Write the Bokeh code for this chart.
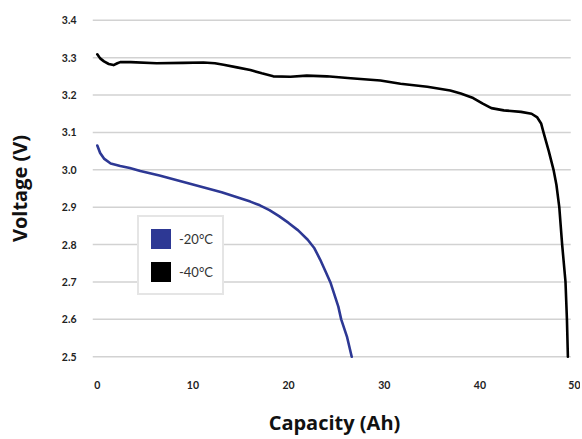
from bokeh.plotting import figure
from bokeh.models import Range1d, FixedTicker, PrintfTickFormatter, Legend, LegendItem, ColumnDataSource
from bokeh.embed import file_html
from bokeh.resources import INLINE

# ---- data ----
cap_m20 = [0, 0.3, 0.7, 1.4, 2.4, 3.4, 4.5, 6.5, 9.7, 13.0, 16.0, 17.0, 18.0, 19.0, 20.0, 21.0, 22.0, 22.7, 23.3, 23.9, 24.4, 25.2, 25.5, 26.1, 26.6]
volt_m20 = [3.065, 3.045, 3.030, 3.017, 3.010, 3.005, 2.997, 2.985, 2.963, 2.940, 2.915, 2.905, 2.892, 2.876, 2.858, 2.838, 2.813, 2.790, 2.760, 2.726, 2.697, 2.634, 2.600, 2.554, 2.500]

cap_m40 = [0, 0.3, 0.7, 1.2, 1.7, 2.1, 2.4, 3.5, 6.2, 9.0, 11.1, 12.3, 13.2, 14.6, 16.0, 17.2, 18.4, 20.2, 21.9, 24.0, 26.5, 29.6, 31.7, 34.5, 36.9, 38.0, 39.3, 40.3, 41.2, 42.5, 44.3, 45.4, 46.0, 46.4, 46.65, 47.2, 47.7, 48.0, 48.3, 48.6, 48.95, 49.1, 49.2]
volt_m40 = [3.309, 3.298, 3.290, 3.283, 3.280, 3.285, 3.288, 3.288, 3.285, 3.286, 3.287, 3.285, 3.281, 3.274, 3.267, 3.258, 3.250, 3.249, 3.252, 3.250, 3.245, 3.239, 3.230, 3.222, 3.212, 3.204, 3.192, 3.177, 3.165, 3.159, 3.155, 3.150, 3.140, 3.124, 3.100, 3.050, 3.000, 2.960, 2.900, 2.800, 2.700, 2.600, 2.500]

series_names = ["-20°C", "-40°C"]
series_colors = ["#2d3894", "#000000"]

y_ticks = [2.5, 2.6, 2.7, 2.8, 2.9, 3.0, 3.1, 3.2, 3.3, 3.4]
x_ticks = [0, 10, 20, 30, 40, 50]
x_grid_start = -0.5
x_grid_end = 49.5

FONT = "Lato"
LABEL_FONT = "Open Sans"

p = figure(width=580, height=438, output_backend="svg", toolbar_location=None,
           x_range=Range1d(-0.5, 50.1), y_range=Range1d(2.49, 3.41),
           min_border_left=92, min_border_right=4, min_border_top=16, min_border_bottom=77)
p.outline_line_color = None
p.xgrid.visible = False
p.ygrid.visible = False

# horizontal gridlines
p.segment(x0=[x_grid_start] * len(y_ticks), x1=[x_grid_end] * len(y_ticks),
          y0=y_ticks, y1=y_ticks, line_color="#d2d2d2", line_width=1.5)

# curves
p.line(cap_m20, volt_m20, line_color=series_colors[0], line_width=2.6, line_join="round", line_cap="round")
p.line(cap_m40, volt_m40, line_color=series_colors[1], line_width=2.6, line_join="round", line_cap="round")

# legend-only swatches (NaN geometry: not drawn in the plot area)
nan = float("nan")
swatch_src = ColumnDataSource(data=dict(left=[nan], right=[nan], bottom=[nan], top=[nan]))
r1 = p.quad(left="left", right="right", bottom="bottom", top="top", source=swatch_src,
            fill_color=series_colors[0], line_color=None)
r2 = p.quad(left="left", right="right", bottom="bottom", top="top", source=swatch_src,
            fill_color=series_colors[1], line_color=None)
legend = Legend(items=[LegendItem(label=series_names[0], renderers=[r1]),
                       LegendItem(label=series_names[1], renderers=[r2])],
                location=(45, 65), orientation="vertical",
                glyph_width=25, glyph_height=25, label_standoff=6,
                padding=9, spacing=8, margin=0,
                label_text_font=FONT, label_text_font_size="13px", label_text_color="#333333",
                border_line_color="#cccccc", border_line_width=2,
                background_fill_color="white", background_fill_alpha=1)
p.add_layout(legend, "center")

for ax in (p.xaxis[0], p.yaxis[0]):
    ax.axis_line_color = None
    ax.major_tick_line_color = None
    ax.minor_tick_line_color = None
    ax.major_tick_out = 0
    ax.major_tick_in = 0
    ax.major_label_text_font = FONT
    ax.major_label_text_font_style = "bold"
    ax.major_label_text_font_size = "10.5px"
    ax.major_label_text_color = "#222222"
    ax.axis_label_text_font = LABEL_FONT
    ax.axis_label_text_font_style = "bold"
    ax.axis_label_text_font_size = "20px"
    ax.axis_label_text_color = "#111111"

p.xaxis.ticker = FixedTicker(ticks=x_ticks)
p.yaxis.ticker = FixedTicker(ticks=y_ticks)
p.yaxis.formatter = PrintfTickFormatter(format="%.1f")
p.xaxis.axis_label = "Capacity (Ah)"
p.yaxis.axis_label = "Voltage (V)"
p.xaxis.major_label_standoff = 20
p.yaxis.major_label_standoff = 16
p.xaxis.axis_label_standoff = 17
p.yaxis.axis_label_standoff = 26

open("out.html", "w").write(file_html(p, INLINE))
